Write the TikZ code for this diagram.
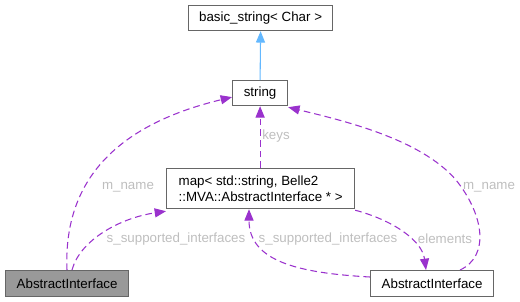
\documentclass[tikz,border=0pt]{standalone}
\usepackage{fontspec}
\setmainfont{Liberation Sans}
\usetikzlibrary{arrows.meta}
\definecolor{edgepurple}{HTML}{9A32CD}
\definecolor{edgeblue}{HTML}{63B8FF}
\definecolor{boxborder}{HTML}{666666}
\definecolor{boxgray}{HTML}{999999}
\definecolor{lblgray}{HTML}{BEBEBE}
\tikzset{
  cls/.style={draw=boxborder, line width=0.9pt, fill=white, inner sep=0pt, anchor=north west, font=\fontsize{10}{12}\selectfont, text=black},
  lbl/.style={font=\fontsize{10}{12}\selectfont, text=lblgray, inner sep=0pt},
  usage/.style={draw=edgepurple, line width=0.8pt, dash pattern=on 5pt off 3pt, -{Triangle[length=8.5pt,width=6.8pt]}, fill=none},
  inherit/.style={draw=edgeblue, line width=0.8pt, -{Triangle[length=8.5pt,width=6.8pt,fill=edgeblue]}},
}
\begin{document}
\begin{tikzpicture}[x=0.75pt,y=-0.75pt]
\useasboundingbox (0,0) rectangle (520,301);
% nodes
\node[cls, minimum width=144*0.75pt, minimum height=25*0.75pt] (bs) at (188,5) {basic\_string< Char >};
\node[cls, minimum width=55*0.75pt, minimum height=25*0.75pt] (str) at (232,80) {string};
\node[cls, minimum width=188*0.75pt, minimum height=40*0.75pt, align=left] (map) at (166,168) {map< std::string, Belle2\\::MVA::AbstractInterface * >};
\node[cls, fill=boxgray, minimum width=123*0.75pt, minimum height=26*0.75pt] (aig) at (5,270) {AbstractInterface};
\node[cls, minimum width=123*0.75pt, minimum height=26*0.75pt] (aiw) at (370,270) {AbstractInterface};
% edges
\draw[inherit] (str.north) -- (bs.south);
\draw[usage] (map.north -| str.south) -- (str.south);
\draw[usage] ([xshift=62*0.75pt]aig.north west) .. controls (64,200) and (95,130) .. ([yshift=-4*0.75pt]str.west);
\draw[usage] ([xshift=67*0.75pt]aig.north west) .. controls (80,240) and (120,218) .. ([yshift=-2*0.75pt]map.south west);
\draw[usage] ([yshift=-7*0.75pt]aiw.north west) .. controls (300,273) and (249,262) .. ([xshift=83*0.75pt]map.south west);
\draw[usage] ([yshift=-1*0.75pt]map.south east) .. controls (392,220) and (422,240) .. ([xshift=56*0.75pt]aiw.north west);
\draw[usage] ([xshift=90*0.75pt]aiw.north west) .. controls (490,256) and (484,215) .. (456,180) .. controls (420,138) and (340,120) .. ([yshift=-1*0.75pt]str.south east);
% labels
\node[lbl] (lkeys) at (276,136) {keys};
\node[lbl] (lmn1) at (128,187) {m\_name};
\node[lbl] (lmn2) at (489,187) {m\_name};
\node[lbl] (lss1) at (176,239) {s\_supported\_interfaces};
\node[lbl] (lss2) at (328,239) {s\_supported\_interfaces};
\node[lbl] (lel) at (445,239) {elements};
\end{tikzpicture}
\end{document}
